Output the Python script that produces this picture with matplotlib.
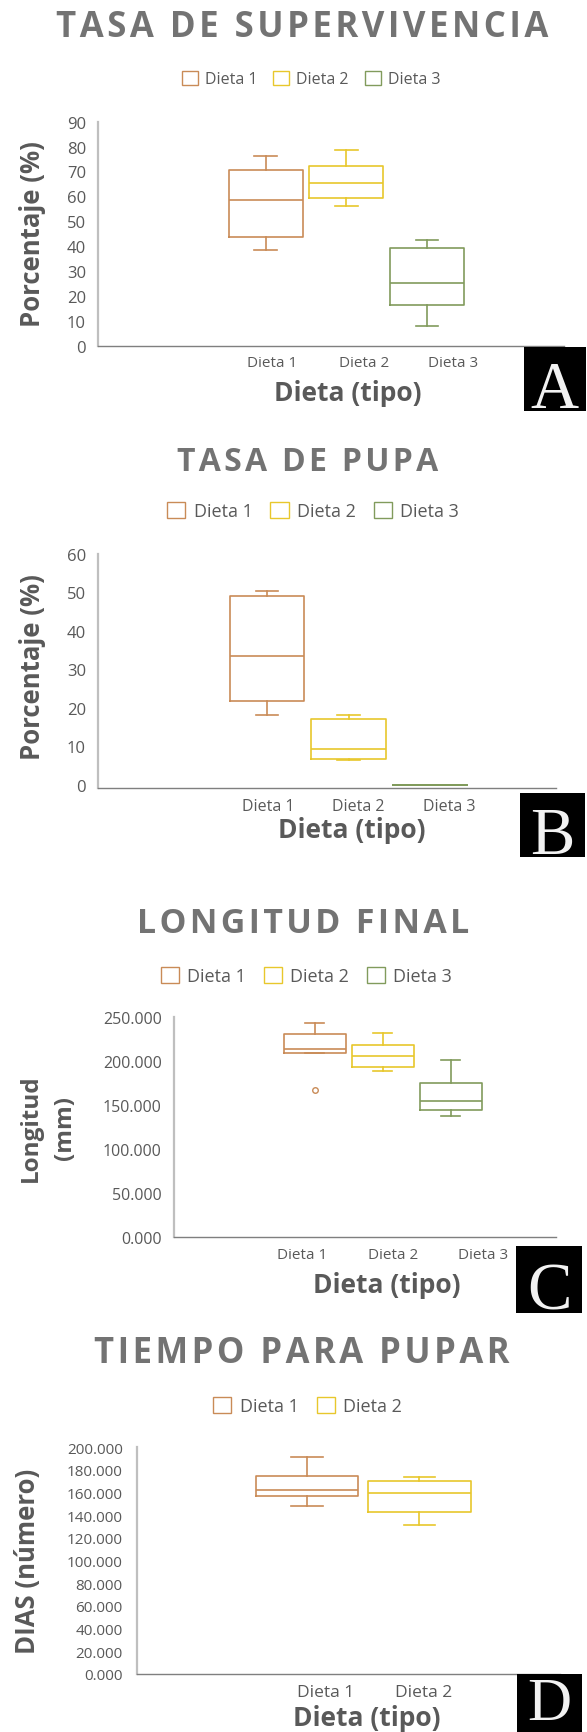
import matplotlib
matplotlib.use('Agg')
import matplotlib.pyplot as plt
from matplotlib.patches import Patch, Rectangle
from matplotlib.ticker import FormatStrFormatter

plt.rcParams['font.family'] = ['Open Sans', 'DejaVu Sans']

# five-number summaries per diet: [whisker low, Q1, median, Q3, whisker high]
dietas = ['Dieta 1', 'Dieta 2', 'Dieta 3']
supervivencia = [[38.3, 43.6, 58.4, 70.4, 76.2],
                 [56.1, 59.5, 65.4, 72.2, 78.5],
                 [7.8, 16.5, 25.0, 39.4, 42.3]]
pupa = [[18.3, 21.9, 33.4, 49.0, 50.4],
        [6.4, 6.7, 9.4, 17.1, 18.2],
        [0.0, 0.0, 0.0, 0.0, 0.0]]
longitud = [[209.5, 209.5, 214.0, 230.7, 243.6],
            [188.6, 193.2, 206.4, 219.0, 232.6],
            [138.3, 144.7, 154.5, 175.4, 201.5]]
longitud_outliers = [[167.5], [], []]
tiempo = [[148.5, 157.4, 162.4, 175.0, 191.2],
          [131.5, 143.2, 159.7, 170.0, 173.5]]

colors = ['#C98B57', '#E8C72C', '#819B5C']
txt_grey = '#595959'
title_grey = '#737373'

W, H = 587, 1733
fig = plt.figure(figsize=(W / 100, H / 100), dpi=100)


def fx(x):
    return x / W


def fy(y):
    return 1 - y / H


def to_stats(rows, outliers=None):
    out = []
    for i, r in enumerate(rows):
        out.append(dict(whislo=r[0], q1=r[1], med=r[2], q3=r[3], whishi=r[4],
                        fliers=outliers[i] if outliers else []))
    return out


def draw_panel(box, rows, xlim, width, label_pos, ylim, yticks, fmt=None,
               tick_size=12, cat_size=11, outliers=None, ypad=8.5):
    left, top, right, bottom = box
    ax = fig.add_axes([fx(left), fy(bottom), (right - left) / W, (bottom - top) / H])
    stats = to_stats(rows, outliers)
    for i, s in enumerate(stats):
        c = colors[i]
        lp = dict(color=c, lw=1.2)
        ax.bxp([s], positions=[i + 1], widths=width, capwidths=[0.28],
               boxprops=lp, medianprops=lp, whiskerprops=lp, capprops=lp,
               flierprops=dict(marker='o', markersize=4, markerfacecolor='white',
                               markeredgecolor=c, markeredgewidth=1.0))
    ax.set_xlim(*xlim)
    ax.set_ylim(*ylim)
    ax.set_yticks(yticks)
    if fmt:
        ax.yaxis.set_major_formatter(FormatStrFormatter(fmt))
    ax.set_xticks(label_pos, dietas[:len(rows)])
    ax.tick_params(axis='y', length=0, pad=ypad, labelsize=tick_size, labelcolor=txt_grey)
    ax.tick_params(axis='x', length=0, pad=7, labelsize=cat_size, labelcolor=txt_grey)
    for s in ['top', 'right']:
        ax.spines[s].set_visible(False)
    ax.spines['left'].set_color('#BFBFBF')
    ax.spines['left'].set_linewidth(1.6)
    ax.spines['bottom'].set_color('#7F7F7F')
    ax.spines['bottom'].set_linewidth(1.0)
    ax.patch.set_alpha(0)
    return ax


def spaced_title(x, y, s, size):
    # hair space between letters for the tracked-out heading look
    fig.text(fx(x), fy(y), '\u200a'.join(s), ha='center', va='baseline',
             fontsize=size, fontweight='bold', color=title_grey)


def legend(x, y, n, size):
    handles = [Patch(facecolor='white', edgecolor=colors[i], lw=1.0, label=dietas[i])
               for i in range(n)]
    lg = fig.legend(handles=handles, loc='center', bbox_to_anchor=(fx(x), fy(y)),
                    ncol=n, frameon=False, fontsize=size, handlelength=1.0,
                    handleheight=1.0, handletextpad=0.45, columnspacing=1.0)
    for t in lg.get_texts():
        t.set_color(txt_grey)


def letter_box(x0, y0, x1, y1, letter, size=48, va='baseline', off=4):
    fig.add_artist(Rectangle((fx(x0), fy(y1)), (x1 - x0) / W, (y1 - y0) / H,
                             transform=fig.transFigure, facecolor='black',
                             edgecolor='none', zorder=10))
    fig.text(fx((x0 + x1) / 2), fy(y1 - off), letter, ha='center', va=va,
             fontsize=size, family='Liberation Serif', color='#F2F2F2', zorder=11)


def ylabel(x, y, s, size=18.5, spacing=1.2):
    fig.text(fx(x), fy(y), s, rotation=90, ha='center', va='center', fontsize=size,
             fontweight='bold', color=txt_grey, linespacing=spacing,
             multialignment='center')


def xlabel(x, y, size=19):
    fig.text(fx(x), fy(y), 'Dieta (tipo)', ha='center', va='baseline', fontsize=size,
             fontweight='bold', color=txt_grey)


# A - survival rate
spaced_title(302, 37, 'TASA DE SUPERVIVENCIA', 25)
legend(311, 80, 3, 11.5)
draw_panel((97.7, 122.7, 564, 346.7), supervivencia, (-1.084, 4.70), 0.92,
           [1.08, 2.22, 3.32], (0, 90), range(0, 91, 10))
ylabel(33, 234, 'Porcentaje (%)')
xlabel(348, 401)
letter_box(524, 348, 585.7, 412, 'A')

# B - pupation rate
spaced_title(308, 471, 'TASA DE PUPA', 23)
legend(313, 511.7, 3, 13)
draw_panel((97.7, 555, 555.7, 789.3), pupa, (-1.077, 4.542), 0.91,
           [1.01, 2.12, 3.23], (-0.86, 60), range(0, 61, 10), cat_size=11.5)
ylabel(33, 667.5, 'Porcentaje (%)')
xlabel(351.5, 838)
letter_box(520, 794, 585, 858, 'B')

# C - final length
spaced_title(303, 933, 'LONGITUD FINAL', 24.4)
legend(306.5, 976.7, 3, 13)
draw_panel((173.7, 1018.3, 555.7, 1238.3), longitud, (-1.068, 4.54), 0.91,
           [0.82, 2.16, 3.48], (0, 250), range(0, 251, 50), fmt='%.3f',
           tick_size=11.5, outliers=longitud_outliers)
ylabel(48, 1128, 'Longitud\n(mm)', size=17.5, spacing=1.6)
xlabel(386.7, 1293)
letter_box(516, 1246.7, 582.3, 1314, 'C')

# D - time to pupate
spaced_title(302, 1363, 'TIEMPO PARA PUPAR', 24.9)
legend(307.5, 1406.7, 2, 13)
draw_panel((136.7, 1448.3, 560, 1675), tiempo, (-0.514, 3.25), 0.91,
           [1.17, 2.04], (0, 200), range(0, 201, 20), fmt='%.3f',
           tick_size=11, cat_size=12.5, ypad=10)
ylabel(28, 1561, 'DIAS (número)')
xlabel(366.7, 1726)
letter_box(516.7, 1675, 581.7, 1733, 'D', size=44, va='bottom', off=0)

fig.savefig('out.png', dpi=100)
